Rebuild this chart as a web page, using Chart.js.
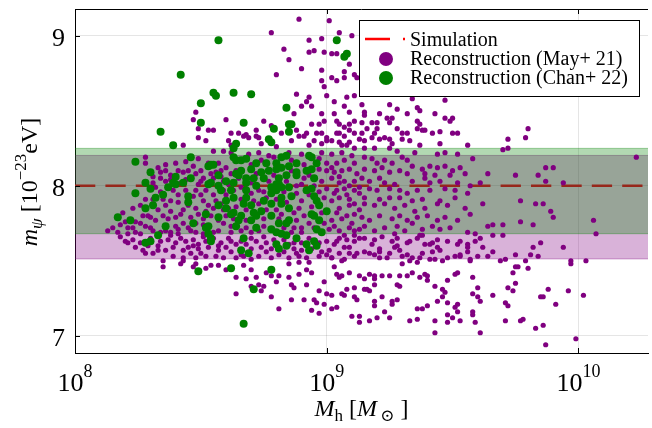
<!DOCTYPE html>
<html>
<head>
<meta charset="utf-8">
<script src="https://cdn.jsdelivr.net/npm/chart.js@4.4.1/dist/chart.umd.min.js"></script>
<style>
  html, body { margin: 0; padding: 0; background: #fff; }
  canvas { display: block; }
</style>
</head>
<body>
<canvas id="chart" width="652" height="428"></canvas>
<script>
// ==========================
// Data
// ==========================
// points are [log10 M_h, m_psi]
const may21 = [
  [8.89,9.11],[8.78,9.02],[8.83,8.91],[8.93,8.97],[8.98,8.98],[8.93,8.89],[8.95,8.90],[8.85,8.84],[8.90,8.78],[8.98,8.77],
  [8.80,8.74],[8.98,8.70],[8.99,8.66],[8.48,8.49],[8.47,8.44],[8.60,8.44],[8.49,8.38],[8.53,8.37],[8.55,8.37],[8.62,8.35],
  [8.43,8.27],[8.49,8.32],[8.52,8.30],[8.61,8.30],[8.62,8.27],[8.65,8.35],
  [9.01,9.10],[9.05,9.02],[9.10,9.00],[8.99,8.89],[9.02,8.88],[9.04,8.88],[9.07,8.76],[9.11,8.74],[9.09,8.81],[9.02,8.72],
  [9.04,8.70],[9.07,8.72],[9.12,8.72],
  [9.70,8.24],[9.72,8.25],[9.72,8.31],[9.79,8.32],[9.80,8.38],[10.23,8.19],[9.64,8.08],[9.75,8.07],[9.84,8.07],[9.87,8.12],
  [9.90,8.12],[9.94,8.02],[9.77,7.90],[9.83,7.88],[9.86,7.88],[9.62,7.88],[9.61,8.02],
  [9.87,8.03],[9.89,7.83],[9.90,7.79],[10.06,7.77],[10.07,7.68],[9.85,7.62],[9.94,7.59],[9.84,7.53],[9.97,7.50],[9.97,7.48],
  [10.03,7.50],
  [9.88,7.31],[9.85,7.26],[9.86,7.26],[9.91,7.21],[9.96,7.30],[10.02,7.27],[9.83,7.05],[9.86,7.07],[9.87,6.94],[9.99,6.98],
  [9.77,7.10],[9.78,7.11],[9.71,7.10],[9.61,7.02],[9.59,7.09],[9.58,7.14],[9.58,7.16],[9.53,7.10],[9.52,7.16],[9.48,7.14],
  [9.50,7.12],[9.48,7.09],[9.43,7.10],[9.43,7.02],[9.33,7.10],[9.36,7.11],[9.36,7.18],[9.38,7.18],[9.40,7.20],[9.25,7.12],
  [9.23,7.16],[9.20,7.12],[9.17,7.10],[9.13,7.09],[9.13,7.13],[9.10,7.13],[9.19,7.23],[9.19,7.20],[9.26,7.23],[9.26,7.21],
  [9.28,7.24],[9.22,7.26],[9.11,7.26],[9.12,7.24],[9.16,7.31],[9.17,7.30],[9.15,7.31],[9.11,7.32],[9.08,7.31],[9.06,7.28],
  [9.07,7.27],[9.02,7.27],[9.04,7.19],[9.02,7.18],[8.99,7.21],[9.29,7.40],[9.34,7.42],[9.32,7.40],[9.37,7.39],[9.40,7.37],
  [9.39,7.41],[9.40,7.40],[9.28,7.34],[9.29,7.33],[9.25,7.40],[9.22,7.40],[9.19,7.40],[9.17,7.41],[9.19,7.34],[9.19,7.38],
  [9.15,7.38],[9.13,7.40],[9.09,7.42],[9.06,7.40],[9.04,7.41],[9.05,7.39],[8.99,7.36],[9.00,7.28],[9.43,7.33],[9.46,7.31],
  [9.47,7.29],[9.46,7.26],[9.44,7.23],[9.52,7.21],[9.51,7.19],[9.48,7.22],[9.58,7.28],[9.60,7.26],[9.61,7.23],[9.66,7.27],
  [9.71,7.22],[9.72,7.20],[9.75,7.35],[9.72,7.32],[9.74,7.30],[9.60,7.32],[9.58,7.39],[9.52,7.42],[9.51,7.41],[9.48,7.37],
  [9.69,7.50],[9.74,7.42],[9.75,7.46],[9.76,7.46],[9.80,7.45],[9.79,7.50],[9.81,7.54],[9.82,7.59],[9.75,7.54],[9.71,7.51],
  [9.66,7.56],[9.64,7.53],[9.62,7.59],[9.60,7.53],[9.57,7.50],[9.56,7.56],[9.53,7.54],[9.51,7.53],[9.46,7.50],[9.44,7.59],
  [9.42,7.56],[9.41,7.51],[9.37,7.52],[9.36,7.49],[9.33,7.50],[9.30,7.48],[9.32,7.54],[9.29,7.57],[9.27,7.59],[9.24,7.52],
  [9.21,7.56],[9.19,7.54],[9.15,7.56],[9.11,7.53],[9.09,7.59],[9.06,7.50],[9.03,7.46],[9.02,7.52],[9.00,7.54],[9.04,7.63],
  [9.08,7.64],[9.13,7.65],[9.19,7.64],[9.22,7.66],[9.28,7.65],[9.33,7.63],[9.37,7.67],[9.41,7.61],[9.44,7.64],[9.48,7.63],
  [9.53,7.63],[9.56,7.61],[9.61,7.65],[9.66,7.67],[9.70,7.67],[9.64,7.73],[9.66,7.74],[9.70,7.74],[9.77,7.76],[9.82,7.74],
  [9.14,8.54],[9.34,8.58],[9.36,8.52],[9.47,8.45],[9.49,8.43],[9.15,8.49],[9.15,8.47],[9.14,8.42],[9.18,8.42],[9.20,8.42],
  [9.21,8.48],[9.25,8.42],[9.36,8.43],[9.37,8.41],[9.38,8.37],[9.39,8.37],[9.42,8.35],[9.45,8.36],[9.50,8.35],[9.52,8.35],
  [9.28,8.38],[9.32,8.35],[9.20,8.38],[9.14,8.35],[9.16,8.38],[9.19,8.35],[9.25,8.54],[9.28,8.51],[9.47,8.57],[9.43,8.48],
  [9.50,8.45],[9.24,8.45],[9.26,8.45],[9.30,8.35],[9.36,8.38],[9.32,8.48],[9.37,8.50],
  [9.13,8.31],[9.15,8.30],[9.18,8.32],[9.21,8.31],[9.23,8.32],[9.25,8.31],[9.26,8.28],[9.30,8.31],[9.33,8.30],[9.37,8.27],
  [9.45,8.28],[9.56,8.27],[9.15,8.25],[9.19,8.25],[9.25,8.25],[9.28,8.23],[9.35,8.22],[9.44,8.21],[9.52,8.21],[9.47,8.22],
  [9.15,8.19],[9.18,8.18],[9.20,8.15],[9.23,8.17],[9.26,8.15],[9.30,8.19],[9.32,8.17],[9.34,8.13],[9.38,8.11],[9.41,8.13],
  [9.44,8.12],[9.47,8.13],[9.50,8.10],[9.53,8.12],[9.58,8.18],[9.15,8.11],[9.19,8.10],[9.22,8.12],[9.25,8.09],[9.29,8.10],
  [9.32,8.08],[9.39,8.08],[9.43,8.07],[9.49,8.07],[9.55,8.08],[9.14,8.05],[9.17,8.03],[9.21,8.05],[9.23,8.02],[9.27,8.01],
  [9.34,8.03],[9.39,8.05],[9.41,8.02],[9.45,8.03],[9.52,8.02],[9.57,8.00],[9.17,7.98],[9.20,7.97],[9.25,7.98],[9.29,7.97],
  [9.32,7.95],[9.36,7.97],[9.41,7.97],[9.47,7.98],[9.51,7.97],[9.56,7.95],[9.15,7.92],[9.21,7.91],[9.25,7.92],[9.29,7.92],
  [9.34,7.90],[9.38,7.91],[9.45,7.90],[9.51,7.92],
  [9.15,7.88],[9.19,7.87],[9.23,7.88],[9.27,7.85],[9.31,7.87],[9.35,7.83],[9.39,7.85],[9.44,7.88],[9.48,7.87],[9.55,7.85],
  [9.14,7.79],[9.17,7.77],[9.21,7.80],[9.26,7.78],[9.29,7.80],[9.32,7.77],[9.36,7.79],[9.40,7.80],[9.44,7.77],[9.47,7.79],
  [9.52,7.77],[9.57,7.81],[9.15,7.73],[9.19,7.70],[9.23,7.72],[9.28,7.73],[9.31,7.70],[9.34,7.75],[9.38,7.71],[9.42,7.73],
  [9.45,7.71],[9.49,7.72],[9.56,7.69],[9.59,7.68],
  [9.15,7.65],[9.18,7.61],[9.21,7.58],[9.26,7.63],[9.28,7.60],[9.32,7.62],[9.36,7.65],[9.39,7.61],[9.42,7.62],[9.45,7.57],
  [9.52,7.61],[9.56,7.59],[9.59,7.63],[9.17,7.55],[9.21,7.52],[9.25,7.55],[9.30,7.53],[9.34,7.52],[9.38,7.55],[9.43,7.51],
  [9.48,7.52],[9.53,7.53],[9.57,7.51],[9.27,7.68],[9.38,7.67],
  [8.88,8.61],[8.93,8.59],[9.00,8.60],[9.08,8.59],[9.11,8.60],[8.92,8.56],[8.94,8.53],[8.90,8.53],[8.87,8.48],[8.98,8.48],
  [9.03,8.56],[9.03,8.48],[9.07,8.53],[9.09,8.49],[9.04,8.43],[8.94,8.41],[8.97,8.41],[8.99,8.43],[9.05,8.41],[9.07,8.39],
  [9.09,8.41],[9.11,8.43],[8.68,8.34],[8.75,8.43],[8.78,8.40],[8.79,8.38],[8.72,8.37],[8.72,8.33],[8.69,8.32],[8.67,8.33],
  [8.73,8.32],[8.82,8.35],[8.88,8.37],[8.89,8.33],[8.86,8.30],[8.91,8.33],[8.92,8.35],[8.96,8.35],[8.98,8.35],[8.95,8.30],
  [9.00,8.32],[9.00,8.30],[8.98,8.28],[9.04,8.35],[9.05,8.35],[9.09,8.37],[9.07,8.33],[9.11,8.35],[9.02,8.30],[9.05,8.29],
  [9.06,8.27],[9.08,8.27],[9.09,8.29],[9.11,8.25],[8.93,8.27],[8.74,8.28],[8.80,8.26],
  [8.69,8.21],[8.73,8.22],[8.77,8.20],[8.85,8.22],[8.90,8.21],[8.98,8.22],[9.02,8.21],[9.06,8.22],[9.10,8.20],[9.00,8.15],
  [9.04,8.15],[9.07,8.17],[9.11,8.15],[9.00,8.10],[9.03,8.09],[9.06,8.10],[9.09,8.11],[9.12,8.08],[8.98,8.03],[9.02,8.05],
  [9.05,8.02],[9.07,8.03],[9.11,8.03],[9.00,7.98],[9.04,7.97],[9.07,7.98],[9.11,7.97],[8.99,7.92],[9.02,7.90],[9.05,7.92],
  [9.09,7.91],[9.11,7.88],[8.90,7.90],[8.89,7.85],[8.73,7.97],[8.76,7.92],[8.88,8.00],[8.91,8.05],[8.66,7.99],[8.66,7.91],
  [8.65,8.05],
  [8.73,7.88],[8.82,7.81],[9.05,7.85],[9.09,7.87],[9.11,7.81],[9.02,7.77],[9.06,7.78],[9.10,7.75],[9.01,7.71],[9.05,7.70],
  [9.09,7.72],[9.11,7.70],[8.90,7.72],[8.90,7.69],[8.86,7.69],[8.75,7.73],[8.70,7.69],[8.68,7.61],[8.72,7.63],[8.74,7.59],
  [8.76,7.62],[8.78,7.58],[8.85,7.61],[8.87,7.58],[8.90,7.62],[8.90,7.57],[9.00,7.63],[9.03,7.61],[9.05,7.65],[9.07,7.59],
  [9.11,7.63],[9.01,7.57],[9.05,7.55],[9.09,7.55],[9.12,7.55],[8.73,7.53],[8.78,7.52],[8.85,7.52],[8.97,7.53],[9.02,7.52],
  [9.07,7.51],[8.89,7.53],[8.70,7.51],
  [8.76,7.42],[8.78,7.40],[8.81,7.40],[8.72,7.39],[8.73,7.34],[8.74,7.30],[8.75,7.33],[8.78,7.26],[8.85,7.39],[8.86,7.34],
  [8.87,7.32],[8.92,7.34],[8.92,7.44],[8.94,7.42],[8.97,7.30],[8.95,7.24],[8.96,7.22],[8.86,7.24],[8.91,7.24],[8.94,7.17],
  [8.97,7.15],[8.81,7.18],[8.89,7.49],[8.93,7.49],[8.85,7.48],
  [8.35,7.50],[8.35,7.46],[8.42,7.48],[8.43,7.50],[8.47,7.46],[8.48,7.48],[8.54,7.47],[8.57,7.47],[8.64,7.39],[8.64,7.28],
  [8.80,7.36],[8.89,7.41],[8.64,7.52],
  [8.20,7.63],[8.21,7.62],[8.24,7.59],[8.26,7.62],[8.28,7.55],[8.31,7.55],[8.33,7.57],[8.36,7.57],[8.29,7.60],[8.34,7.63],
  [8.38,7.67],[8.41,7.68],[8.42,7.65],[8.44,7.63],[8.45,7.59],[8.47,7.60],[8.49,7.61],[8.52,7.63],[8.55,7.65],[8.57,7.57],
  [8.60,7.59],[8.61,7.65],[8.64,7.61],[8.43,7.52],[8.46,7.55],[8.50,7.55],[8.52,7.53],[8.56,7.53],
  [8.19,7.82],[8.27,7.80],[8.30,7.79],[8.21,7.72],[8.23,7.72],[8.26,7.75],[8.30,7.72],[8.32,7.77],[8.35,7.80],[8.38,7.83],
  [8.42,7.81],[8.43,7.75],[8.45,7.72],[8.48,7.75],[8.49,7.81],[8.52,7.83],[8.55,7.85],[8.57,7.77],[8.60,7.80],[8.62,7.73],
  [8.57,7.70],[8.55,7.69],[8.51,7.68],[8.48,7.69],[8.40,7.73],[8.38,7.69],[8.34,7.69],[8.26,7.68],[8.21,7.68],[8.24,7.69],
  [8.15,7.72],[8.18,7.74],[8.17,7.69],[8.13,7.70],
  [8.28,8.19],[8.28,8.15],[8.34,8.09],[8.36,8.10],[8.34,8.05],[8.38,8.07],[8.41,8.10],[8.43,8.09],[8.45,8.10],[8.46,8.05],
  [8.48,8.08],[8.50,8.10],[8.51,8.05],[8.54,8.08],[8.56,8.09],[8.58,8.10],[8.60,8.12],[8.62,8.08],[8.64,8.10],[8.32,7.99],
  [8.28,7.91],[8.26,7.87],[8.23,7.85],[8.31,7.91],[8.35,7.91],[8.38,7.90],[8.41,7.89],[8.45,7.87],[8.48,7.85],[8.51,7.90],
  [8.56,7.90],[8.58,7.88],[8.61,7.85],[8.36,8.03],[8.42,8.02],[8.49,8.01],[8.53,8.02],[8.59,8.03],[8.61,8.01],[8.63,7.97],
  [8.39,7.97],[8.44,7.97],[8.48,7.97],[8.52,7.97],[8.59,7.97],[8.55,8.23],[8.59,8.23],[8.62,8.22],[8.57,8.15],[8.53,8.15],
  [8.49,8.18],
  // dense core, between the green markers
  [8.36,8.14],[8.40,8.15],[8.44,8.16],[8.47,8.13],[8.33,8.12],[8.31,8.06],[8.38,8.04],[8.44,8.04],[8.50,8.03],[8.55,8.05],
  [8.58,8.06],[8.31,8.02],[8.34,7.96],[8.41,7.94],[8.47,7.93],[8.50,7.94],[8.55,7.94],[8.60,7.94],[8.36,7.87],[8.43,7.84],
  [8.53,7.87],[8.59,7.84],[8.64,7.86],[8.33,7.84],[8.29,7.80],[8.37,7.78],[8.40,7.79],[8.46,7.79],[8.51,7.78],[8.54,7.80],
  [8.63,7.78],[8.59,7.75],[8.51,7.74],[8.46,7.70],[8.41,7.71],[8.36,7.70],[8.31,7.70],[8.28,7.73],[8.24,7.76],[8.20,7.76],
  [8.62,7.69],[8.66,7.70],[8.30,7.65],[8.37,7.64],[8.40,7.62],[8.47,7.64],[8.51,7.66],[8.58,7.62],[8.62,7.63],[8.66,7.63],
  [8.33,7.60],[8.39,7.59],[8.43,7.57],[8.49,7.58],[8.53,7.59],[8.57,7.60],[8.62,7.56],[8.66,7.54],[8.39,7.53],[8.48,7.52],
  [8.59,7.52],[8.27,7.57],[8.23,7.64],[8.18,7.66],
  [8.70,8.14],[8.74,8.17],[8.79,8.19],[8.86,8.17],[8.91,8.14],[8.97,8.18],[8.72,8.08],[8.79,8.07],[8.86,8.10],[8.93,8.07],
  [8.97,8.11],[8.70,8.02],[8.77,8.03],[8.84,8.03],[8.90,8.01],[8.95,8.00],[8.70,7.95],[8.75,7.96],[8.83,7.96],[8.88,7.95],
  [8.93,7.94],[8.97,7.96],[8.71,7.90],[8.80,7.91],[8.84,7.89],[8.94,7.86],[8.68,7.84],[8.76,7.84],[8.80,7.84],[8.87,7.82],
  [8.91,7.80],[8.98,7.82],[8.68,7.77],[8.75,7.78],[8.81,7.78],[8.88,7.77],[8.93,7.75],[8.99,7.75],[8.68,7.72],[8.73,7.70],
  [8.83,7.72],[8.87,7.72],[8.95,7.72],[8.70,7.65],[8.75,7.66],[8.79,7.64],[8.83,7.64],[8.87,7.62],[8.93,7.65],[8.97,7.62],
  [8.70,7.58],[8.76,7.56],[8.83,7.56],[8.88,7.55],[8.94,7.58],[8.98,7.56],[8.67,7.53],[8.81,7.54],[8.92,7.52],
  [9.02,8.12],[9.05,8.06],[9.09,8.00],[9.13,7.99],[9.03,7.95],[9.08,7.94],[9.13,7.95],[9.04,7.82],[9.08,7.80],[9.13,7.84],
  [9.03,7.73],[9.13,7.71],[9.07,7.67],[9.11,7.67],
  [8.52,7.45],[8.60,7.44],[8.67,7.47],[8.70,7.44],[8.68,7.38],[8.70,7.33]
];

const chan22 = [
  [8.57,8.97],[8.42,8.74],[8.55,8.62],[8.56,8.60],[8.63,8.62],[8.70,8.61],[8.50,8.55],[8.50,8.42],[8.84,8.52],[8.67,8.42],
  [8.85,8.41],[8.86,8.41],[8.79,8.38],[8.85,8.36],[8.34,8.36],[8.39,8.27],[8.46,8.19],[8.24,8.16],[8.77,8.31],[8.78,8.29],
  [8.63,8.25],[8.64,8.28],
  [9.04,8.97],[9.07,8.86],[9.08,8.88],
  [8.49,7.43],[8.62,7.45],[8.78,7.44],[8.71,7.31],[8.67,7.08],
  [8.28,7.85],[8.31,7.87],[8.22,7.77],[8.36,7.73],[8.33,7.67],[8.28,7.62],[8.30,7.63],[8.45,7.89],[8.47,7.75],[8.52,7.72],
  [8.53,7.73],[8.53,7.68],[8.54,7.65],[8.54,7.63],[8.57,7.87],[8.60,7.85],[8.63,7.82],[8.64,7.73],[8.17,7.79],
  [8.63,8.19],[8.64,8.17],[8.54,8.14],[8.55,8.14],[8.53,8.13],[8.30,8.09],[8.40,8.06],[8.46,8.05],[8.28,8.02],[8.39,8.02],
  [8.37,7.99],[8.40,8.01],[8.57,8.07],[8.57,8.00],[8.60,8.03],[8.58,7.97],[8.64,8.08],[8.63,8.02],[8.62,7.97],[8.60,7.90],
  [8.63,7.92],[8.30,7.98],[8.24,7.95],[8.35,7.94],[8.32,7.92],[8.45,7.93],
  [8.66,8.17],[8.68,8.18],[8.72,8.15],[8.76,8.15],[8.80,8.15],[8.82,8.19],[8.84,8.20],[8.88,8.15],[8.94,8.19],[8.93,8.20],
  [8.96,8.15],[8.66,8.10],[8.70,8.11],[8.74,8.09],[8.77,8.10],[8.80,8.11],[8.82,8.12],[8.85,8.13],[8.88,8.09],[8.92,8.10],
  [8.94,8.11],[8.95,8.05],[8.68,8.05],[8.71,8.05],[8.75,8.05],[8.81,8.05],[8.84,8.07],[8.88,8.07],[8.80,8.01],[8.81,8.01],
  [8.78,7.99],[8.82,7.99],[8.85,7.99],[8.80,7.97],[8.78,7.95],[8.82,7.92],[8.86,7.93],[8.72,8.00],[8.68,7.97],[8.68,7.92],
  [8.67,7.88],[8.70,7.87],[8.75,7.90],[8.78,7.88],[8.82,7.88],[8.85,7.85],[8.92,7.97],[8.94,7.98],[8.95,7.93],[8.96,7.90],
  [8.97,7.87],
  [8.71,7.82],[8.66,7.80],[8.70,7.77],[8.72,7.80],[8.78,7.80],[8.85,7.77],[8.84,7.75],[8.81,7.75],[8.78,7.71],[8.80,7.69],
  [8.82,7.68],[8.80,7.61],[8.81,7.58],[8.67,7.65],[8.66,7.57],[8.69,7.55],[8.88,7.65],[8.94,7.81],[8.95,7.80],[8.97,7.77],
  [8.98,7.69],[9.00,7.83],[8.95,7.63],[8.96,7.60],[8.93,7.57],[8.92,7.61],
  [8.52,7.81],[8.57,7.79],[8.62,7.81],[8.65,7.77],[8.43,8.02],[8.53,8.01],[8.54,8.02],[8.65,8.07],[8.68,8.02],[8.74,7.83],
  [8.84,7.60],[8.84,7.67],[8.96,7.71],[8.72,7.72]
];

const simValue = 8.0;                 // simulation m_psi
const simMassRange = [1e8, 1.89e10];  // dashed line spans the panel
const mayBand = [7.512, 8.202];       // May+ 21 shaded range
const chanBand = [7.680, 8.249];      // Chan+ 22 shaded range

const xTicks = [1e8, 1e9, 1e10];
const xTickExp = ['8', '9', '10'];
const yTicks = [7, 8, 9];

const xRange = [1e8, 1.89e10];
const yRange = [6.885, 9.178];

const labels = ['Simulation', 'Reconstruction (May+ 21)', 'Reconstruction (Chan+ 22)'];
const serif = "'Liberation Serif', 'DejaVu Serif', serif";

const toXY = p => ({ x: Math.pow(10, p[0]), y: p[1] });

// ==========================
// helpers
// ==========================
function richText(ctx, runs, x, y, align) {
  let w = 0;
  runs.forEach(r => { ctx.font = r.font; r.w = ctx.measureText(r.t).width; w += r.w; });
  let cx = align === 'center' ? x - w / 2 : (align === 'right' ? x - w : x);
  ctx.textAlign = 'left';
  ctx.textBaseline = 'alphabetic';
  runs.forEach(r => { ctx.font = r.font; ctx.fillText(r.t, cx, y + (r.dy || 0)); cx += r.w; });
}

// bands are drawn right after the simulation line, so the line sits underneath
const bandPlugin = {
  id: 'bands',
  afterDatasetDraw(chart, args) {
    if (args.index !== 0) return;
    const { ctx, chartArea: a, scales: { y } } = chart;
    const draw = (band, fill, edge) => {
      const t = y.getPixelForValue(band[1]), b = y.getPixelForValue(band[0]);
      ctx.fillStyle = fill;
      ctx.fillRect(a.left, t, a.right - a.left, b - t);
      ctx.strokeStyle = edge;
      ctx.lineWidth = 1;
      ctx.beginPath();
      ctx.moveTo(a.left, t); ctx.lineTo(a.right, t);
      ctx.moveTo(a.left, b); ctx.lineTo(a.right, b);
      ctx.stroke();
    };
    ctx.save();
    draw(mayBand, 'rgba(128,0,128,0.3)', 'rgba(128,0,128,0.35)');
    draw(chanBand, 'rgba(0,128,0,0.3)', 'rgba(0,128,0,0.35)');
    ctx.restore();
  }
};

const decorPlugin = {
  id: 'decor',
  afterDraw(chart) {
    const { ctx, chartArea: a, scales: { x, y } } = chart;
    ctx.save();
    // top frame + tick marks
    ctx.strokeStyle = '#000';
    ctx.lineWidth = 1;
    ctx.beginPath();
    ctx.moveTo(a.left, a.top + 0.5); ctx.lineTo(a.right, a.top + 0.5);
    xTicks.forEach(v => {
      const px = Math.round(x.getPixelForValue(v)) + 0.5;
      ctx.moveTo(px, a.bottom); ctx.lineTo(px, a.bottom - 5);
      ctx.moveTo(px, a.top); ctx.lineTo(px, a.top + 5);
    });
    yTicks.forEach(v => {
      const py = Math.round(y.getPixelForValue(v)) + 0.5;
      ctx.moveTo(a.left, py); ctx.lineTo(a.left + 5, py);
    });
    ctx.stroke();

    // tick labels
    ctx.fillStyle = '#000';
    yTicks.forEach(v => {
      richText(ctx, [{ t: String(v), font: `26px ${serif}` }], 65, y.getPixelForValue(v) + 10, 'right');
    });
    xTicks.forEach((v, i) => {
      richText(ctx, [
        { t: '10', font: `26px ${serif}` },
        { t: xTickExp[i], font: `18px ${serif}`, dy: -14 }
      ], x.getPixelForValue(v), 391, 'center');
    });

    // axis titles
    richText(ctx, [
      { t: 'M', font: `italic 24px ${serif}` },
      { t: 'h', font: `17px ${serif}`, dy: 5 },
      { t: ' [', font: `24px ${serif}` },
      { t: 'M', font: `italic 24px ${serif}` },
      { t: '\u2009\u2299', font: `17px ${serif}`, dy: 5 },
      { t: ' ]', font: `24px ${serif}` }
    ], (a.left + a.right) / 2, 416, 'center');

    ctx.translate(37, 182);
    ctx.rotate(-Math.PI / 2);
    richText(ctx, [
      { t: 'm', font: `italic 24px ${serif}` },
      { t: '\u03C8', font: `italic 17px ${serif}`, dy: 5 },
      { t: ' [10', font: `24px ${serif}` },
      { t: '\u221223', font: `17px ${serif}`, dy: -11 },
      { t: 'eV]', font: `24px ${serif}` }
    ], 0, 0, 'center');
    ctx.restore();

    // legend
    ctx.save();
    ctx.fillStyle = '#fff';
    ctx.fillRect(359.5, 20.5, 280, 76);
    ctx.strokeStyle = '#000';
    ctx.lineWidth = 1;
    ctx.strokeRect(359.5, 20.5, 280, 76);
    ctx.strokeStyle = '#ff0000';
    ctx.lineWidth = 2.5;
    ctx.beginPath();
    ctx.moveTo(365, 39); ctx.lineTo(390, 39);
    ctx.moveTo(403, 39); ctx.lineTo(405, 39);
    ctx.stroke();
    const ds = chart.data.datasets;
    [[ds[1].backgroundColor, 59], [ds[2].backgroundColor, 78]].forEach(([c, yy]) => {
      ctx.fillStyle = c;
      ctx.beginPath(); ctx.arc(386, yy, 7, 0, Math.PI * 2); ctx.fill();
    });
    ctx.fillStyle = '#000';
    [46, 65, 84].forEach((yy, i) => richText(ctx, [{ t: ds[i].label, font: `20px ${serif}` }], 410, yy, 'left'));
    ctx.restore();
  }
};

// ==========================
// Chart
// ==========================
const ctx = document.getElementById('chart').getContext('2d');
new Chart(ctx, {
  type: 'scatter',
  data: {
    datasets: [
      {
        type: 'line',
        label: labels[0],
        data: simMassRange.map(m => ({ x: m, y: simValue })),
        borderColor: '#ff0000',
        borderWidth: 2.5,
        borderDash: [20.3, 10.1],
        pointRadius: 0,
        order: 3
      },
      {
        label: labels[1],
        data: may21.map(toXY),
        backgroundColor: '#800080',
        borderWidth: 0,
        pointRadius: 2.6,
        order: 2
      },
      {
        label: labels[2],
        data: chan22.map(toXY),
        backgroundColor: '#008000',
        borderWidth: 0,
        pointRadius: 4,
        order: 1
      }
    ]
  },
  options: {
    responsive: false,
    animation: false,
    devicePixelRatio: 1,
    layout: { padding: { top: 9, right: 0, left: 0, bottom: 0 } },
    plugins: { legend: { display: false }, tooltip: { enabled: false } },
    scales: {
      x: {
        type: 'logarithmic',
        min: xRange[0],
        max: xRange[1],
        afterBuildTicks: s => { s.ticks = xTicks.map(v => ({ value: v })); },
        afterFit: s => { s.height = 75; },
        ticks: { display: false },
        grid: { color: 'rgba(0,0,0,0.1)', drawTicks: false },
        border: { color: '#000', width: 1 }
      },
      y: {
        min: yRange[0],
        max: yRange[1],
        afterBuildTicks: s => { s.ticks = yTicks.map(v => ({ value: v })); },
        afterFit: s => { s.width = 75; },
        ticks: { display: false },
        grid: { color: 'rgba(0,0,0,0.1)', drawTicks: false },
        border: { color: '#000', width: 1 }
      }
    }
  },
  plugins: [bandPlugin, decorPlugin]
});
</script>
</body>
</html>
